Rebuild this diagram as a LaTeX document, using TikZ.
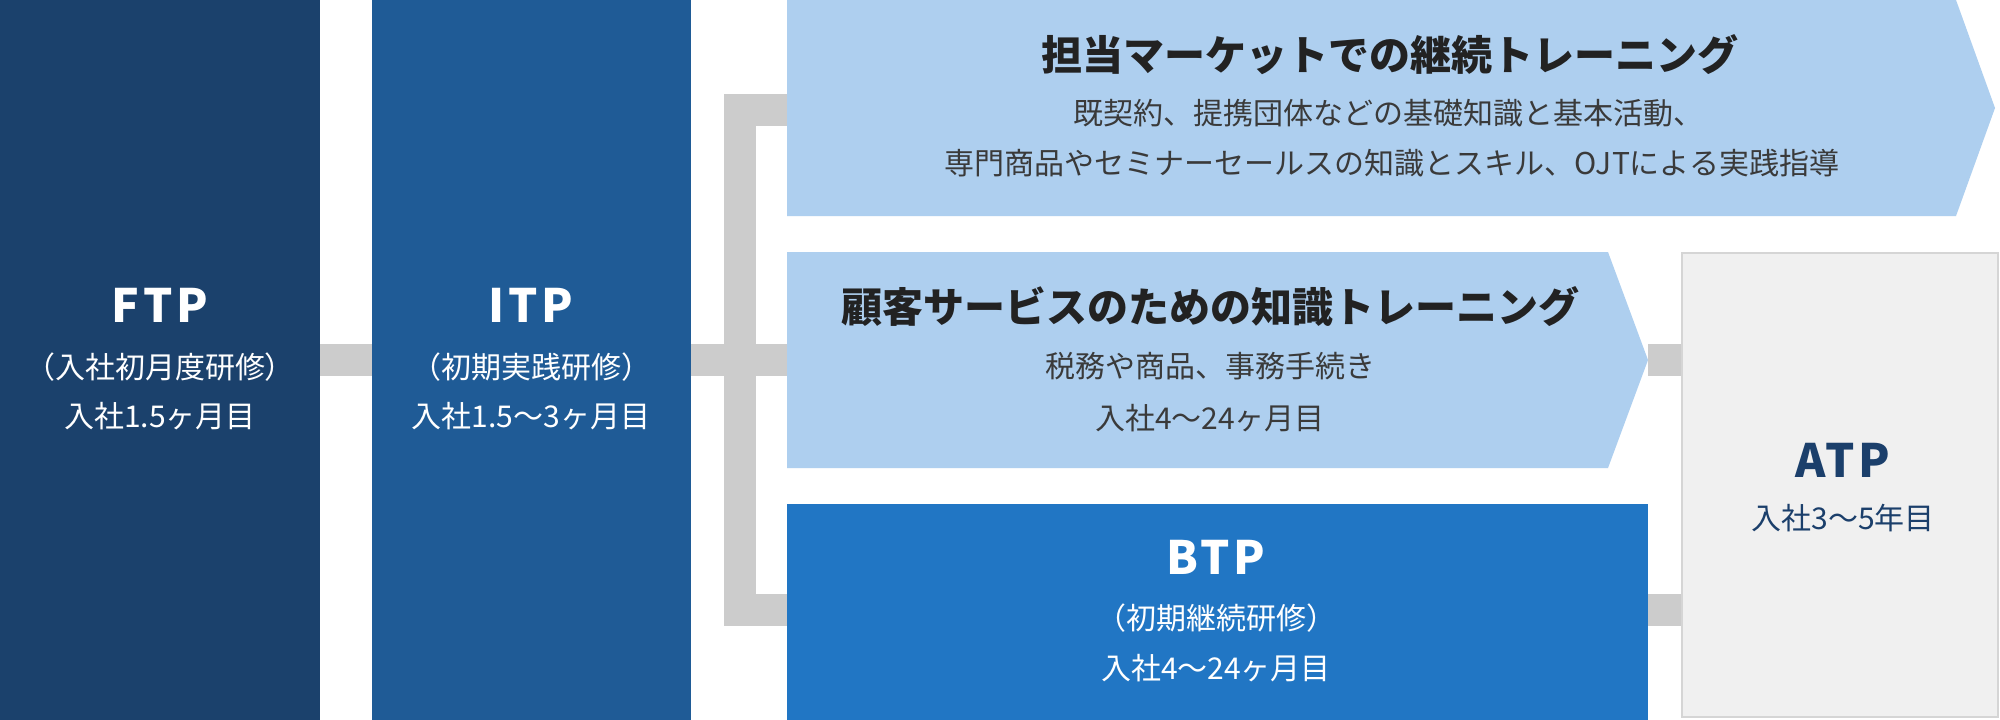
\documentclass[tikz,border=0pt]{standalone}
\usepackage{fontspec}
\setmainfont{Noto Sans CJK JP}
\definecolor{ftpc}{HTML}{1B416C}
\definecolor{itpc}{HTML}{1F5B96}
\definecolor{lbc}{HTML}{AECFEF}
\definecolor{btpc}{HTML}{2176C4}
\definecolor{connc}{HTML}{CCCCCC}
\definecolor{atpf}{HTML}{F0F0F0}
\definecolor{atpd}{HTML}{D5D5D5}
\definecolor{ttlc}{HTML}{222222}
\definecolor{subc}{HTML}{3A3A3A}
\definecolor{navy}{HTML}{1B3F6B}
\begin{document}
\begin{tikzpicture}[x=1pt,y=-1pt,
  conn/.style={draw=connc, line width=32pt},
  stage/.style={inner sep=0pt, outer sep=0pt, anchor=north west},
  ttl/.style={font=\fontsize{41}{41}\selectfont\bfseries, text=ttlc, inner sep=0pt},
  sub/.style={font=\fontsize{30}{30}\selectfont, text=subc, inner sep=0pt},
  wsub/.style={font=\fontsize{30}{30}\selectfont, text=white, inner sep=0pt},
  big/.style={font=\fontsize{46}{46}\selectfont\bfseries\addfontfeature{LetterSpace=8}, inner sep=0pt}]
\useasboundingbox (0,0) rectangle (2000,720);
\fill[white] (0,0) rectangle (2000,720);
% connector anchor points
\coordinate (j1) at (740,110);
\coordinate (j2) at (740,610);
\coordinate (b1w) at (788,110);
\coordinate (b2w) at (788,360);
\coordinate (b3w) at (788,610);
\coordinate (b2e) at (1648,360);
\coordinate (b3e) at (1648,610);
\coordinate (atpw1) at (1682,360);
\coordinate (atpw2) at (1682,610);
% stage boxes
\node[stage, fill=ftpc, minimum width=320pt, minimum height=720pt] (ftp) at (0,0) {};
\node[stage, fill=itpc, minimum width=319pt, minimum height=720pt] (itp) at (372,0) {};
% connectors
\draw[conn] (ftp.east) -- (itp.west);
\draw[conn] (itp.east) -- (b2w);
\draw[conn] (b1w) -- (j1) -- (j2) -- (b3w);
\draw[conn] (b2e) -- (atpw1);
\draw[conn] (b3e) -- (atpw2);
% branch boxes
\fill[lbc] (787,0) -- (1956,0) -- (1995,108) -- (1956,216) -- (787,216) -- cycle;
\fill[lbc] (787,252) -- (1608,252) -- (b2e) -- (1608,468) -- (787,468) -- cycle;
\node[stage, fill=btpc, minimum width=861pt, minimum height=216pt] (btp) at (787,504) {};
\node[stage, fill=atpf, draw=atpd, line width=2pt, minimum width=316pt, minimum height=464pt] (atp) at (1682,253) {};
% texts
\node[big, text=white] (ftpT) at (160,305) {FTP};
\node[wsub] (ftpS) at (160,367) {（入社初月度研修）};
\node[wsub] (ftpD) at (160,416) {入社1.5ヶ月目};
\node[big, text=white] (itpT) at (531,305) {ITP};
\node[wsub] (itpS) at (531,367) {（初期実践研修）};
\node[wsub] (itpD) at (531,416) {入社1.5〜3ヶ月目};
\node[ttl] (mT) at (1390,55) {担当マーケットでの継続トレーニング};
\node[sub] (mS1) at (1388,113) {既契約、提携団体などの基礎知識と基本活動、};
\node[sub] (mS2) at (1392,163) {専門商品やセミナーセールスの知識とスキル、OJTによる実践指導};
\node[ttl] (cT) at (1210,307) {顧客サービスのための知識トレーニング};
\node[sub] (cS) at (1210,366) {税務や商品、事務手続き};
\node[sub] (cD) at (1210,418) {入社4〜24ヶ月目};
\node[big, text=white] (btpT) at (1216,557) {BTP};
\node[wsub] (btpS) at (1216,618) {（初期継続研修）};
\node[wsub] (btpD) at (1216,668) {入社4〜24ヶ月目};
\node[big, text=navy] (atpT) at (1843,460) {ATP};
\node[sub, text=navy] (atpD) at (1843,518) {入社3〜5年目};
\end{tikzpicture}
\end{document}
